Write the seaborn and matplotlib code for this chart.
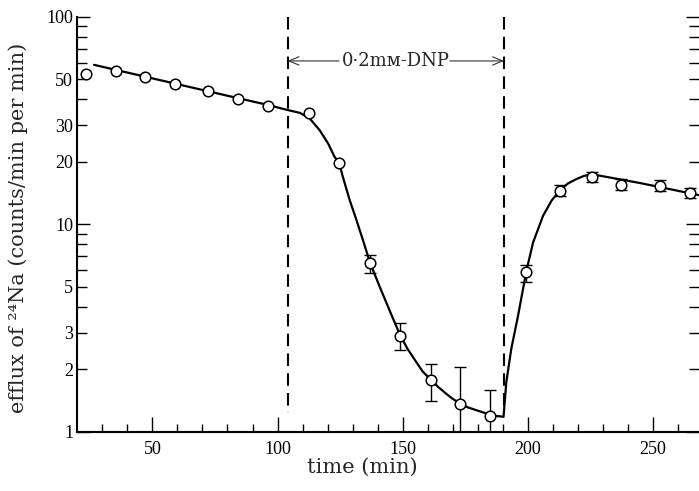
import numpy as np
import matplotlib
matplotlib.use('Agg')
import matplotlib.pyplot as plt
import seaborn as sns
from matplotlib.ticker import FixedLocator, FuncFormatter

# measured points (time in min, efflux in counts/min per min)
time_pts = [23.4, 35.3, 47.0, 58.9, 72.2, 84.2, 96.3, 112.6, 124.6, 137.0,
            149.1, 161.2, 172.8, 184.9, 199.4, 212.9, 225.7, 237.4, 252.7, 264.7]
efflux_pts = [52.9, 54.9, 51.2, 47.5, 44.0, 40.0, 37.1, 34.4, 19.8, 6.47,
              2.89, 1.78, 1.36, 1.19, 5.86, 14.5, 16.9, 15.5, 15.3, 14.1]
# error bar ends (nan = no bar drawn)
err_hi = [np.nan] * 9 + [7.1, 3.33, 2.12, 2.05, 1.59, 6.38, 15.5, 17.9, 16.5, 16.3, 15.0]
err_lo = [np.nan] * 9 + [5.83, 2.48, 1.41, 0.9, 0.85, 5.28, 13.6, 15.9, 14.6, 14.4, 13.3]

# hand drawn curve
curve_time = [26.7, 40, 60, 80, 96, 104, 108.9, 112.8, 116.8, 120.2, 122.8, 124.6,
              126.1, 128.8, 131.5, 134.1, 137.0, 140.8, 146.1, 149.1, 152.0, 155.5,
              158.0, 161.2, 164.0, 167.5, 170.0, 172.8, 176.0, 179.4, 182.0, 184.9,
              187.5, 190.3, 191.4, 193.4, 196.1, 199.4, 202.1, 206.1, 209.5, 212.9,
              216.0, 219.4, 222.5, 225.7, 244.7, 252.7, 268.4]
curve_efflux = [58.6, 53.8, 47.3, 41.6, 37.6, 35.5, 34.4, 32.4, 28.4, 24.5, 21.1, 19.8,
                16.9, 13.1, 10.5, 8.4, 6.5, 5.0, 3.52, 2.9, 2.5, 2.16,
                1.95, 1.78, 1.65, 1.52, 1.44, 1.37, 1.31, 1.27, 1.24, 1.21,
                1.19, 1.18, 1.73, 2.51, 3.62, 5.93, 8.16, 10.98, 13.0, 14.6,
                15.7, 16.5, 17.1, 17.4, 15.8, 15.1, 13.8]

# DNP period
dnp_start, dnp_end = 104, 190.5
dnp_label = '0·2mᴍ-DNP'
dnp_level = 61.2

x_major = [50, 100, 150, 200, 250]
x_minor = [30, 40, 60, 70, 80, 90, 110, 120, 130, 140, 160, 170, 180, 190,
           210, 220, 230, 240, 260]
y_major = [1, 10, 100]
y_minor = [2, 3, 4, 5, 6, 7, 8, 9, 20, 30, 40, 50, 60, 70, 80, 90]
y_minor_labelled = [2, 3, 5, 20, 30, 50]

sns.set_theme(style='ticks')
plt.rcParams['font.family'] = ['DejaVu Serif', 'DejaVu Sans']

fig = plt.figure(figsize=(6.99, 4.91), dpi=100)
ax = fig.add_axes([0.1106, 0.1208, 0.8894, 0.8452])

sns.lineplot(x=curve_time, y=curve_efflux, ax=ax, color='black', lw=1.6,
             sort=False, estimator=None, zorder=3)

pts_t = np.array(time_pts)
pts_v = np.array(efflux_pts)
hi = np.array(err_hi)
lo = np.array(err_lo)
has_err = ~np.isnan(hi)
ax.errorbar(pts_t[has_err], pts_v[has_err],
            yerr=[pts_v[has_err] - lo[has_err], hi[has_err] - pts_v[has_err]],
            fmt='none', ecolor='black', elinewidth=1.0, capsize=4, capthick=1.0,
            zorder=4)

sns.scatterplot(x=time_pts, y=efflux_pts, ax=ax, marker='o', s=58,
                facecolor='white', edgecolor='black', linewidth=1.1, zorder=5)

# dashes start from the top of each line
ax.vlines([dnp_start, dnp_end], 100, 1.23, colors='black', lw=1.5,
          linestyles=(0, (6, 3.5)), zorder=2)

ax.text((dnp_start + dnp_end) / 2, dnp_level, dnp_label, ha='center', va='center',
        fontsize=13, family=['DejaVu Serif', 'DejaVu Sans'])
arrow = dict(arrowstyle='->,head_length=0.6,head_width=0.25', lw=0.8, color='0.2',
             shrinkA=0, shrinkB=0)
ax.annotate('', xy=(dnp_start, dnp_level), xytext=(37, 0),
            textcoords='offset points', arrowprops=arrow)
ax.annotate('', xy=(dnp_end, dnp_level), xytext=(-39, 0),
            textcoords='offset points', arrowprops=arrow)

ax.set_yscale('log')
ax.set_xlim(20, 268.4)
ax.set_ylim(1, 100)

ax.xaxis.set_major_locator(FixedLocator(x_major))
ax.xaxis.set_minor_locator(FixedLocator(x_minor))
ax.yaxis.set_major_locator(FixedLocator(y_major))
ax.yaxis.set_minor_locator(FixedLocator(y_minor))
ax.yaxis.set_major_formatter(FuncFormatter(lambda v, p: f'{v:g}'))
ax.yaxis.set_minor_formatter(FuncFormatter(
    lambda v, p: f'{v:g}' if round(v) in y_minor_labelled else ''))

for side in ['top', 'right']:
    ax.spines[side].set_visible(False)
for side in ['left', 'bottom']:
    ax.spines[side].set_linewidth(1.5)
    ax.spines[side].set_color('black')

ax.tick_params(axis='both', which='both', direction='in', colors='black',
               width=1.0, labelsize=13, top=False)
ax.tick_params(axis='x', which='major', length=11, pad=7)
ax.tick_params(axis='x', which='minor', length=5.5)
ax.tick_params(axis='y', which='major', length=9.5, pad=3, right=True)
ax.tick_params(axis='y', which='minor', length=7, pad=3, right=True)
for lab in ax.get_xticklabels() + ax.get_yticklabels(which='both'):
    lab.set_family('Liberation Serif')

ax.set_xlabel('time (min)', fontsize=15)
ax.set_ylabel('efflux of ²⁴Na (counts/min per min)', fontsize=15)
ax.xaxis.set_label_coords(0.458, -0.062)
ax.yaxis.set_label_coords(-0.08, 0.49)

fig.savefig('out.png', dpi=100)
